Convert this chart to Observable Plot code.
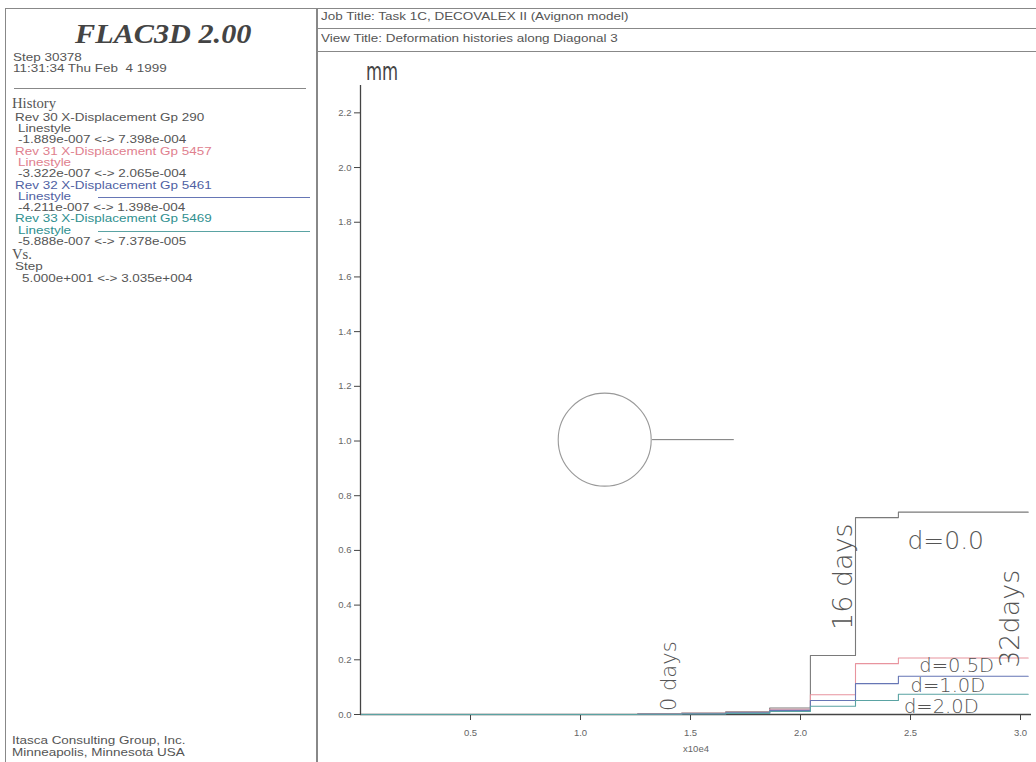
<!DOCTYPE html>
<html><head><meta charset="utf-8">
<script src="https://cdn.jsdelivr.net/npm/d3@7"></script>
<script src="https://cdn.jsdelivr.net/npm/@observablehq/plot@0.6"></script>
<style>
html,body{margin:0;padding:0;background:#fff;}
body{width:1036px;height:762px;overflow:hidden;position:relative;font-family:"Liberation Sans",Arial,sans-serif;color:#555;}
.t{position:absolute;white-space:pre;font-size:11.5px;line-height:12px;transform-origin:0 50%;transform:scaleX(1.17);}
.serif{font-family:"Liberation Serif","Times New Roman",serif;}
.box{position:absolute;border-color:#888;border-style:solid;border-width:0;}
#plot{position:absolute;left:316px;top:52px;}
</style></head><body>
<div id="plot"></div>
<script>
// ---- text content ----
const headerTitle = "FLAC3D 2.00";
const stepInfo = ["Step 30378", "11:31:34 Thu Feb  4 1999"];
const historyNames = ["Rev 30 X-Displacement Gp 290", "Rev 31 X-Displacement Gp 5457", "Rev 32 X-Displacement Gp 5461", "Rev 33 X-Displacement Gp 5469"];
const historyRanges = ["-1.889e-007 <-> 7.398e-004", "-3.322e-007 <-> 2.065e-004", "-4.211e-007 <-> 1.398e-004", "-5.888e-007 <-> 7.378e-005"];
const historyColors = ["#555555", "#e0808e", "#4f5fa3", "#2f8f8f"];
const vsName = "Step";
const vsRange = "5.000e+001 <-> 3.035e+004";
const footerLines = ["Itasca Consulting Group, Inc.", "Minneapolis, Minnesota USA"];
const jobTitle = "Job Title: Task 1C, DECOVALEX II (Avignon model)";
const viewTitle = "View Title: Deformation histories along Diagonal 3";
const unitLabel = "mm";
const xAxisLabel = "x10e4";

// ---- chart data (x in units of 10^4 steps, y in mm) ----
const steps = [0.005, 1.26, 1.46, 1.66, 1.86, 2.045, 2.25, 2.445, 3.035];
const disp00 = [0, 0.003, 0.005, 0.010, 0.024, 0.216, 0.720, 0.740, 0.740];
const disp05 = [0, 0.002, 0.004, 0.008, 0.019, 0.072, 0.186, 0.2065, 0.2065];
const disp10 = [0, 0.001, 0.003, 0.006, 0.015, 0.051, 0.113, 0.140, 0.140];
const disp20 = [0, 0.001, 0.002, 0.004, 0.011, 0.030, 0.051, 0.074, 0.074];
const seriesNames = ["d=0.0", "d=0.5D", "d=1.0D", "d=2.0D"];
const seriesColors = ["#7a7a7a", "#e8949e", "#6676b5", "#5aa3a3"];
const xTicks = [0.5, 1.0, 1.5, 2.0, 2.5, 3.0];
const yTicks = [0, 0.2, 0.4, 0.6, 0.8, 1.0, 1.2, 1.4, 1.6, 1.8, 2.0, 2.2];

// schematic: tunnel circle and diagonal ray (data coordinates)
const tunnel = [{x: 1.11, y: 1.005}];
const ray = [{x: 1.327, y: 1.005}, {x: 1.695, y: 1.005}];

// annotations (data coordinates)
const seriesNotes = [
  {x: 2.66, y: 0.636, text: "d=0.0", size: 25},
  {x: 2.71, y: 0.180, text: "d=0.5D", size: 19.5},
  {x: 2.67, y: 0.104, text: "d=1.0D", size: 19.5},
  {x: 2.64, y: 0.028, text: "d=2.0D", size: 19.5}
];
const timeNotes = [
  {x: 1.403, y: 0.14, text: "0 days", size: 21},
  {x: 2.195, y: 0.504, text: "16 days", size: 27},
  {x: 2.955, y: 0.35, text: "32days", size: 27}
];

// ---- page frame & left panel ----
function box(l, t, w, h, sides) {
  const d = document.createElement("div");
  d.className = "box";
  Object.assign(d.style, {left: l + "px", top: t + "px", width: w + "px", height: h + "px"});
  for (const s of sides) d.style["border" + s + "Width"] = "1px";
  document.body.appendChild(d);
  return d;
}
function text(str, x, yc, opts = {}) {
  const d = document.createElement("div");
  d.className = "t" + (opts.cls ? " " + opts.cls : "");
  d.textContent = str;
  const fs = opts.size || 11.5;
  d.style.fontSize = fs + "px";
  d.style.lineHeight = fs + "px";
  d.style.left = x + "px";
  d.style.top = (yc - fs / 2) + "px";
  if (opts.color) d.style.color = opts.color;
  if (opts.style) Object.assign(d.style, opts.style);
  document.body.appendChild(d);
  return d;
}
box(5, 8, 311, 760, ["Top", "Left", "Right"]);
box(316, 8, 720, 760, ["Top", "Left"]);
box(316, 28, 720, 0, ["Top"]);
box(316, 51, 720, 0, ["Top"]);
box(14, 88, 292, 0, ["Top"]);

text(headerTitle, 75, 34, {cls: "serif", size: 27, style: {fontWeight: "bold", fontStyle: "italic", transform: "scaleX(1.12)", color: "#444"}});
text(stepInfo[0], 13, 58);
text(stepInfo[1], 13, 69);
text("History", 12, 104, {cls: "serif", size: 14, style: {transform: "scaleX(1.05)"}});
const lineStep = 11.3;
historyNames.forEach((n, i) => {
  const y0 = 117.5 + i * 3 * lineStep;
  const c = historyColors[i];
  text(n, 15, y0, {color: c});
  text("Linestyle", 18, y0 + lineStep, {color: c});
  text(historyRanges[i], 18, y0 + 2 * lineStep);
  if (i >= 2) {
    const l = box(98, Math.round(y0 + lineStep), 212, 0, ["Top"]);
    l.style.borderColor = seriesColors[i];
  }
});
text("Vs.", 12, 255, {cls: "serif", size: 14, style: {transform: "scaleX(1.05)"}});
text(vsName, 15, 267);
text(vsRange, 22, 278.5);
text(footerLines[0], 12, 741);
text(footerLines[1], 12, 753);

text(jobTitle, 321, 17);
text(viewTitle, 321, 39);
text(unitLabel, 366, 71, {size: 25, style: {fontFamily: "DejaVu Sans", transform: "scaleX(0.66)", color: "#444"}});

// ---- plot ----
const rows = [];
[disp00, disp05, disp10, disp20].forEach((arr, s) => {
  arr.forEach((v, i) => rows.push({step: steps[i], disp: v, series: seriesNames[s]}));
});
const fmt = d => d.toFixed(1);
const labelFont = "DejaVu Sans";

const chart = Plot.plot({
  width: 720,
  height: 710,
  marginLeft: 44,
  marginRight: 5,
  marginTop: 33,
  marginBottom: 48,
  style: {fontFamily: "Liberation Sans, Arial, sans-serif", fontSize: "9.5px", color: "#666", background: "transparent", overflow: "visible"},
  x: {domain: [0, 3.05]},
  y: {domain: [0, 2.3]},
  color: {domain: seriesNames, range: seriesColors},
  marks: [
    Plot.axisX({ticks: xTicks, tickFormat: fmt, tickSize: 6, tickPadding: 9, label: xAxisLabel, labelAnchor: "center", labelArrow: "none", labelOffset: 37, stroke: "#444"}),
    Plot.axisY({ticks: yTicks, tickFormat: fmt, tickSize: 6, tickPadding: 3, label: null, stroke: "#444"}),
    Plot.ruleY([0], {stroke: "#444", strokeWidth: 1.3}),
    Plot.ruleX([0], {stroke: "#444", strokeWidth: 1.3}),
    Plot.line(rows, {x: "step", y: "disp", z: "series", stroke: "series", curve: "step-after", strokeWidth: 1.1}),
    Plot.dot(tunnel, {x: "x", y: "y", r: 46.5, stroke: "#999", fill: "none", strokeWidth: 1.1}),
    Plot.line(ray, {x: "x", y: "y", stroke: "#777", strokeWidth: 1}),
    Plot.text(seriesNotes, {x: "x", y: "y", text: "text", fontSize: "size", fill: "#555", fontFamily: labelFont, fontWeight: 200}),
    Plot.text(timeNotes, {x: "x", y: "y", text: "text", rotate: -90, fontSize: "size", fill: "#555", fontFamily: labelFont, fontWeight: 200})
  ]
});
document.getElementById("plot").appendChild(chart);
</script>
</body></html>
